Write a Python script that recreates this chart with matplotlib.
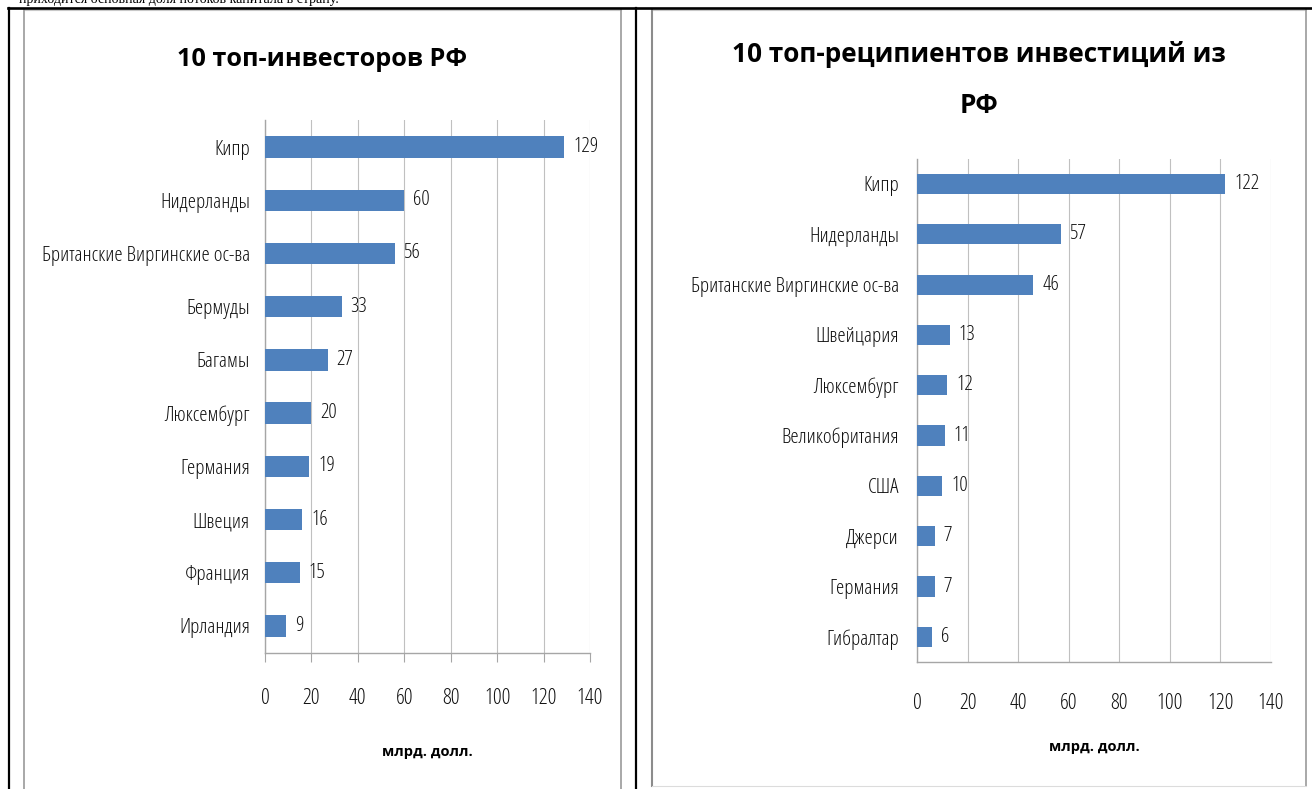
import matplotlib
matplotlib.use("Agg")
import matplotlib.pyplot as plt
from matplotlib import font_manager
from matplotlib.lines import Line2D

# data
left_countries = ['Кипр', 'Нидерланды', 'Британские Виргинские ос-ва', 'Бермуды', 'Багамы',
                  'Люксембург', 'Германия', 'Швеция', 'Франция', 'Ирландия']
left_values = [129, 60, 56, 33, 27, 20, 19, 16, 15, 9]

right_countries = ['Кипр', 'Нидерланды', 'Британские Виргинские ос-ва', 'Швейцария', 'Люксембург',
                   'Великобритания', 'США', 'Джерси', 'Германия', 'Гибралтар']
right_values = [122, 57, 46, 13, 12, 11, 10, 7, 7, 6]

x_ticks = [0, 20, 40, 60, 80, 100, 120, 140]
left_title = '10 топ-инвесторов РФ'
right_title = '10 топ-реципиентов инвестиций из\nРФ'
x_label = 'млрд. долл.'
top_line = 'приходится основная доля потоков капитала в страну.'

# the original is squeezed Calibri -> take a condensed face if one is installed
fonts = font_manager.fontManager.ttflist
narrow = {f.name for f in fonts if f.stretch in ('condensed', 'semi-condensed')}
fam, k, stretch = 'Liberation Sans', 0.82, 'normal'
for name, kk in [('Liberation Sans Narrow', 1.0), ('Noto Sans', 1.12), ('Open Sans', 1.12),
                 ('Roboto', 1.12), ('DejaVu Sans', 0.85)]:
    if name in narrow:
        fam, k, stretch = name, kk, 'condensed'
        break
plt.rcParams['font.family'] = [fam, 'DejaVu Sans']
plt.rcParams['font.stretch'] = stretch

W, H = 1312, 789
fig = plt.figure(figsize=(W / 100, H / 100), dpi=100)
fig.patch.set_facecolor('white')


def px(x, y):
    return x / W, 1 - y / H


def fig_line(x0, y0, x1, y1, color, lw):
    a, b = px(x0, y0)
    c, d = px(x1, y1)
    fig.add_artist(Line2D([a, c], [b, d], color=color, lw=lw, transform=fig.transFigure))


# page bits: cut text line, table borders, chart frames
fig.text(19 / W, 1 - 2.5 / H, top_line, family='Liberation Serif', fontsize=10,
         va='baseline', ha='left', color='black', stretch='normal')

fig_line(24, 10, 621, 10, '#c8c8c8', 0.8)
fig_line(24, 10, 24, 789, '#9a9a9a', 1.2)
fig_line(621, 10, 621, 789, '#9a9a9a', 1.2)
fig_line(652, 10, 1306, 10, '#c8c8c8', 0.8)
fig_line(652, 10, 652, 786, '#8c8c8c', 1.5)
fig_line(1306, 10, 1306, 786, '#9a9a9a', 1.2)
fig_line(652, 786, 1306, 786, '#dcdcdc', 0.8)

fig_line(8, 8, 1312, 8, 'black', 1.9)
fig_line(9, 8, 9, 789, 'black', 1.6)
fig_line(636, 8, 636, 789, 'black', 1.6)

bar_color = '#4f81bd'
grid_color = '#c0c0c0'
axis_color = '#a6a6a6'
text_color = '#111111'
fs = 13.5 * k


def draw(rect, countries, values, ticks_out, ypad, xpad, xlab_y):
    ax = fig.add_axes(rect)
    ax.barh(range(len(countries)), values, height=0.4, color=bar_color, zorder=3)
    ax.set_xlim(0, 140)
    ax.set_ylim(len(countries) - 0.5, -0.5)
    ax.set_yticks(range(len(countries)))
    ax.set_yticklabels(countries, fontsize=fs, color=text_color)
    ax.set_xticks(x_ticks)
    ax.set_xticklabels([str(t) for t in x_ticks], fontsize=fs * 1.04, color=text_color)
    ax.grid(axis='x', color=grid_color, lw=0.8, zorder=0)
    for s in ['top', 'right']:
        ax.spines[s].set_visible(False)
    for s in ['left', 'bottom']:
        ax.spines[s].set_color(axis_color)
        ax.spines[s].set_linewidth(1.0)
    ax.tick_params(axis='y', length=0, pad=ypad)
    if ticks_out:
        ax.tick_params(axis='x', length=6.5, width=0.8, color=axis_color, pad=xpad - 6.5)
    else:
        ax.tick_params(axis='x', length=0, pad=xpad)
    ax.bar_label(ax.containers[0], padding=6.5, fontsize=fs, color=text_color)
    ax.set_xlabel(x_label, fontsize=10.5, fontweight='bold', va='center',
                  fontstretch='normal')
    ax.xaxis.set_label_coords(0.5, xlab_y)
    return ax


draw([265 / W, 1 - 652.6 / H, 325 / W, 532.2 / H], left_countries, left_values,
     True, 10.8, 25.5, -0.1868)
draw([917 / W, 1 - 662 / H, 354 / W, 503.2 / H], right_countries, right_values,
     False, 13, 22, -0.1689)

tx, ty = px(322, 60)
fig.text(tx, ty, left_title, fontsize=18.2, fontweight='bold', ha='center', va='center',
         fontstretch='normal')
tx, ty = px(979, 80)
fig.text(tx, ty, right_title, fontsize=18.8, fontweight='bold', ha='center', va='center',
         linespacing=2.12, multialignment='center', fontstretch='normal')

plt.savefig('out.png', dpi=100)
